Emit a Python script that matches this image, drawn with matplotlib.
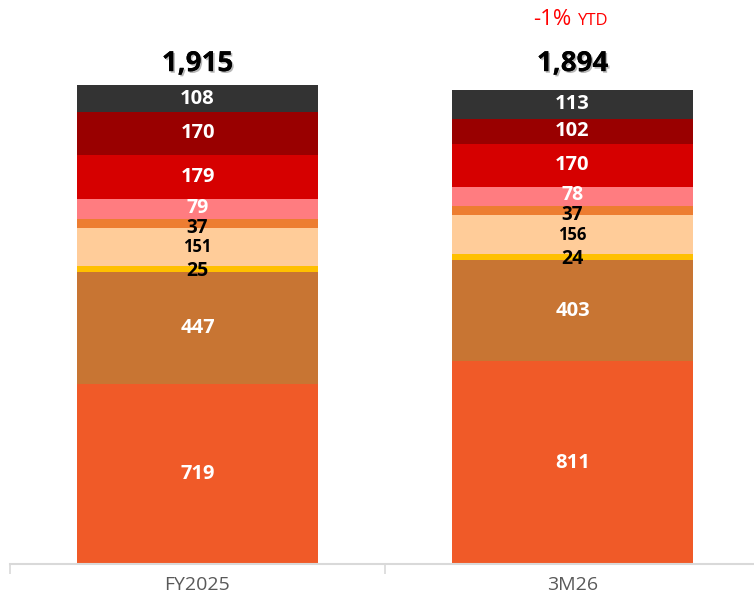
"""Stacked bar: FY2025 vs 3M26 breakdown with totals."""

import matplotlib

matplotlib.use("Agg")
import matplotlib.pyplot as plt
import matplotlib.patheffects as pe
import numpy as np

categories = ["FY2025", "3M26"]
# segments, bottom to top
fy2025 = [719, 447, 25, 151, 37, 79, 179, 170, 108]
m3_26 = [811, 403, 24, 156, 37, 78, 170, 102, 113]
seg_colors = ["#F05A28", "#C87533", "#FFC000", "#FFCC99", "#ED7D31",
              "#FF7C80", "#D60000", "#990000", "#333333"]
label_colors = ["white", "white", "black", "black", "black",
                "white", "white", "white", "white"]
label_sizes = [14.5, 14.5, 14, 12, 13.5, 14, 14.5, 14.5, 14.5]
# small vertical nudges (points) so the thin-segment labels don't collide
label_nudge = [0, 0, -1, 0, -3, 1, 0, 0, 0]
totals_text = ["1,915", "1,894"]
change_text = "-1%"
change_suffix = "YTD"

plt.rcParams["font.family"] = ["Open Sans", "DejaVu Sans"]

fig = plt.figure(figsize=(7.54, 5.97), dpi=100)
fig.patch.set_facecolor("white")
# axes spans slightly past the right edge like the source slide
ax = fig.add_axes([10 / 754, 33 / 597, 750 / 754, 564 / 597])
ax.set_facecolor("none")

data = np.array([fy2025, m3_26])
x = np.arange(len(categories))
width = 0.645
bottoms = np.zeros(len(categories))
for i in range(data.shape[1]):
    vals = data[:, i]
    ax.bar(x, vals, width, bottom=bottoms, color=seg_colors[i], edgecolor="none")
    for xi, v, b in zip(x, vals, bottoms):
        ax.annotate(f"{v}", (xi, b + v / 2), xytext=(0, label_nudge[i]),
                    textcoords="offset points", ha="center", va="center",
                    color=label_colors[i], fontsize=label_sizes[i], fontweight="bold")
    bottoms = bottoms + vals

shadow = [pe.withSimplePatchShadow(offset=(1.2, -1.2), shadow_rgbFace="#888888", alpha=0.6),
          pe.Normal()]
# totals sit on a common line above both bars
total_y = bottoms.max()
for xi, txt in zip(x, totals_text):
    ax.annotate(txt, (xi, total_y), xytext=(0, 5), textcoords="offset points",
                ha="center", va="bottom", fontsize=20, fontweight="bold",
                color="black", path_effects=shadow)

# YTD change above the last bar
ax.annotate(change_text, (x[-1], total_y), xytext=(-1, 43), textcoords="offset points",
            ha="right", va="baseline", fontsize=16, color="#FF0000")
ax.annotate(change_suffix, (x[-1], total_y), xytext=(4, 43), textcoords="offset points",
            ha="left", va="baseline", fontsize=12, color="#FF0000")

ax.set_xlim(-0.5, 1.5)
ax.set_ylim(0, 2255)
ax.set_yticks([])
ax.set_xticks(x)
ax.set_xticklabels(categories, fontsize=14, color="#595959")
ax.tick_params(axis="x", which="major", length=0, pad=9)
ax.set_xticks([-0.5, 0.5, 1.5], minor=True)
ax.tick_params(axis="x", which="minor", length=7, color="#D9D9D9", width=1.2)
for side in ["top", "right", "left"]:
    ax.spines[side].set_visible(False)
ax.spines["bottom"].set_color("#D9D9D9")
ax.spines["bottom"].set_linewidth(1.5)

fig.savefig("out.png", dpi=100)
